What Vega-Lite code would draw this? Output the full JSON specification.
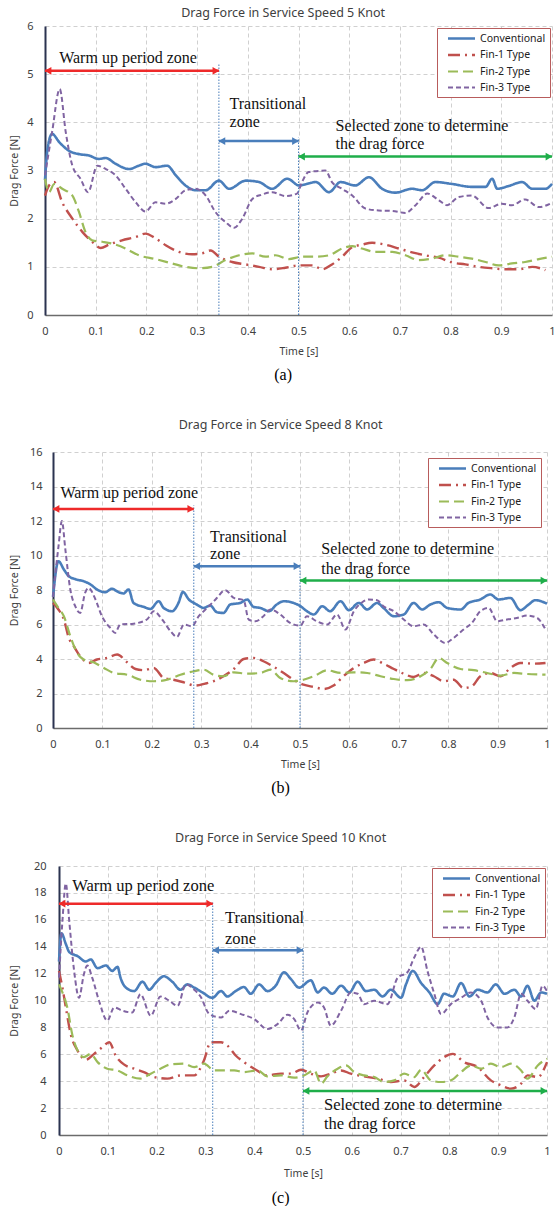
{
"$schema": "https://vega.github.io/schema/vega-lite/v6.json",
"padding": {"left": 0, "top": 6, "right": 0, "bottom": 0},
"spacing": 35,
"resolve": {"scale": {"color": "independent", "strokeDash": "independent", "strokeWidth": "independent", "stroke": "independent", "fill": "independent"}, "legend": {"color": "independent", "strokeDash": "independent", "strokeWidth": "independent", "stroke": "independent", "fill": "independent"}},
"config": {
  "font": "Noto Sans",
  "view": {"stroke": null},
  "axis": {"grid": true, "gridDash": [4, 3], "gridColor": "#d0d0d0", "gridWidth": 1, "ticks": false, "labelOverlap": false, "labelFont": "Noto Sans", "labelFontSize": 11, "labelColor": "#404040", "titleFont": "Noto Sans", "titleFontSize": 10.5, "titleFontWeight": "normal", "titleColor": "#404040"},
  "axisX": {"domainColor": "#6b6b6b", "domainWidth": 1.5, "labelPadding": 10, "titlePadding": 10, "labelFlush": false},
  "axisY": {"domainColor": "#2b3350", "domainWidth": 2, "titlePadding": 8, "labelOverlap": false},
  "legend": {"orient": "top-right", "fillColor": "white", "strokeColor": "#b85c5c", "padding": 4, "symbolType": "M-2.7,0L2.7,0", "symbolSize": 100, "symbolStrokeWidth": 2, "labelFont": "Noto Sans", "labelFontSize": 10.5, "labelColor": "#222222", "rowPadding": 4.5, "labelOffset": 12, "symbolOffset": 14},
  "title": {"font": "Noto Sans", "fontSize": 12.5, "fontWeight": "normal", "color": "#404040", "frame": "bounds", "anchor": "middle"},
  "concat": {"spacing": 35}
},
"datasets": {
"sp": [{"k": 0}],
"a": [
{"s":"Conventional","t":0,"v":2.8},{"s":"Conventional","t":0.005,"v":3.45},{"s":"Conventional","t":0.014,"v":3.76},{"s":"Conventional","t":0.028,"v":3.59},{"s":"Conventional","t":0.047,"v":3.41},{"s":"Conventional","t":0.067,"v":3.34},{"s":"Conventional","t":0.087,"v":3.31},{"s":"Conventional","t":0.106,"v":3.24},{"s":"Conventional","t":0.12,"v":3.26},{"s":"Conventional","t":0.139,"v":3.14},{"s":"Conventional","t":0.166,"v":3.03},{"s":"Conventional","t":0.185,"v":3.1},{"s":"Conventional","t":0.198,"v":3.14},{"s":"Conventional","t":0.218,"v":3.07},{"s":"Conventional","t":0.241,"v":3.1},{"s":"Conventional","t":0.258,"v":2.9},{"s":"Conventional","t":0.277,"v":2.69},{"s":"Conventional","t":0.297,"v":2.59},{"s":"Conventional","t":0.317,"v":2.59},{"s":"Conventional","t":0.343,"v":2.79},{"s":"Conventional","t":0.363,"v":2.62},{"s":"Conventional","t":0.396,"v":2.79},{"s":"Conventional","t":0.422,"v":2.76},{"s":"Conventional","t":0.448,"v":2.62},{"s":"Conventional","t":0.478,"v":2.83},{"s":"Conventional","t":0.501,"v":2.69},{"s":"Conventional","t":0.534,"v":2.76},{"s":"Conventional","t":0.56,"v":2.55},{"s":"Conventional","t":0.583,"v":2.76},{"s":"Conventional","t":0.612,"v":2.69},{"s":"Conventional","t":0.639,"v":2.86},{"s":"Conventional","t":0.665,"v":2.62},{"s":"Conventional","t":0.691,"v":2.54},{"s":"Conventional","t":0.724,"v":2.62},{"s":"Conventional","t":0.744,"v":2.59},{"s":"Conventional","t":0.77,"v":2.76},{"s":"Conventional","t":0.803,"v":2.72},{"s":"Conventional","t":0.842,"v":2.66},{"s":"Conventional","t":0.869,"v":2.66},{"s":"Conventional","t":0.882,"v":2.83},{"s":"Conventional","t":0.892,"v":2.62},{"s":"Conventional","t":0.915,"v":2.68},{"s":"Conventional","t":0.941,"v":2.76},{"s":"Conventional","t":0.961,"v":2.62},{"s":"Conventional","t":0.987,"v":2.62},{"s":"Conventional","t":1,"v":2.72},
{"s":"Fin-1 Type","t":0,"v":2.48},{"s":"Fin-1 Type","t":0.008,"v":2.69},{"s":"Fin-1 Type","t":0.018,"v":2.76},{"s":"Fin-1 Type","t":0.034,"v":2.34},{"s":"Fin-1 Type","t":0.054,"v":2.0},{"s":"Fin-1 Type","t":0.074,"v":1.72},{"s":"Fin-1 Type","t":0.093,"v":1.52},{"s":"Fin-1 Type","t":0.11,"v":1.39},{"s":"Fin-1 Type","t":0.126,"v":1.46},{"s":"Fin-1 Type","t":0.152,"v":1.55},{"s":"Fin-1 Type","t":0.179,"v":1.62},{"s":"Fin-1 Type","t":0.198,"v":1.69},{"s":"Fin-1 Type","t":0.218,"v":1.59},{"s":"Fin-1 Type","t":0.238,"v":1.45},{"s":"Fin-1 Type","t":0.264,"v":1.31},{"s":"Fin-1 Type","t":0.29,"v":1.26},{"s":"Fin-1 Type","t":0.31,"v":1.28},{"s":"Fin-1 Type","t":0.327,"v":1.34},{"s":"Fin-1 Type","t":0.343,"v":1.21},{"s":"Fin-1 Type","t":0.369,"v":1.1},{"s":"Fin-1 Type","t":0.396,"v":1.05},{"s":"Fin-1 Type","t":0.422,"v":1.0},{"s":"Fin-1 Type","t":0.448,"v":0.95},{"s":"Fin-1 Type","t":0.474,"v":0.98},{"s":"Fin-1 Type","t":0.501,"v":1.03},{"s":"Fin-1 Type","t":0.527,"v":1.03},{"s":"Fin-1 Type","t":0.547,"v":0.95},{"s":"Fin-1 Type","t":0.566,"v":1.05},{"s":"Fin-1 Type","t":0.586,"v":1.21},{"s":"Fin-1 Type","t":0.606,"v":1.41},{"s":"Fin-1 Type","t":0.625,"v":1.46},{"s":"Fin-1 Type","t":0.645,"v":1.5},{"s":"Fin-1 Type","t":0.671,"v":1.46},{"s":"Fin-1 Type","t":0.698,"v":1.38},{"s":"Fin-1 Type","t":0.724,"v":1.3},{"s":"Fin-1 Type","t":0.75,"v":1.24},{"s":"Fin-1 Type","t":0.777,"v":1.19},{"s":"Fin-1 Type","t":0.803,"v":1.09},{"s":"Fin-1 Type","t":0.829,"v":1.05},{"s":"Fin-1 Type","t":0.855,"v":1.0},{"s":"Fin-1 Type","t":0.882,"v":0.97},{"s":"Fin-1 Type","t":0.908,"v":0.95},{"s":"Fin-1 Type","t":0.934,"v":0.95},{"s":"Fin-1 Type","t":0.961,"v":1.0},{"s":"Fin-1 Type","t":0.987,"v":0.93},
{"s":"Fin-2 Type","t":0,"v":2.83},{"s":"Fin-2 Type","t":0.008,"v":2.55},{"s":"Fin-2 Type","t":0.018,"v":2.72},{"s":"Fin-2 Type","t":0.034,"v":2.62},{"s":"Fin-2 Type","t":0.054,"v":2.48},{"s":"Fin-2 Type","t":0.067,"v":2.14},{"s":"Fin-2 Type","t":0.08,"v":1.72},{"s":"Fin-2 Type","t":0.093,"v":1.55},{"s":"Fin-2 Type","t":0.113,"v":1.52},{"s":"Fin-2 Type","t":0.133,"v":1.48},{"s":"Fin-2 Type","t":0.159,"v":1.38},{"s":"Fin-2 Type","t":0.185,"v":1.24},{"s":"Fin-2 Type","t":0.218,"v":1.16},{"s":"Fin-2 Type","t":0.251,"v":1.07},{"s":"Fin-2 Type","t":0.277,"v":1.0},{"s":"Fin-2 Type","t":0.304,"v":0.97},{"s":"Fin-2 Type","t":0.33,"v":1.0},{"s":"Fin-2 Type","t":0.356,"v":1.14},{"s":"Fin-2 Type","t":0.383,"v":1.24},{"s":"Fin-2 Type","t":0.409,"v":1.28},{"s":"Fin-2 Type","t":0.435,"v":1.21},{"s":"Fin-2 Type","t":0.455,"v":1.24},{"s":"Fin-2 Type","t":0.481,"v":1.16},{"s":"Fin-2 Type","t":0.507,"v":1.21},{"s":"Fin-2 Type","t":0.534,"v":1.21},{"s":"Fin-2 Type","t":0.56,"v":1.24},{"s":"Fin-2 Type","t":0.586,"v":1.38},{"s":"Fin-2 Type","t":0.606,"v":1.43},{"s":"Fin-2 Type","t":0.625,"v":1.38},{"s":"Fin-2 Type","t":0.652,"v":1.31},{"s":"Fin-2 Type","t":0.685,"v":1.31},{"s":"Fin-2 Type","t":0.711,"v":1.24},{"s":"Fin-2 Type","t":0.737,"v":1.14},{"s":"Fin-2 Type","t":0.763,"v":1.17},{"s":"Fin-2 Type","t":0.79,"v":1.24},{"s":"Fin-2 Type","t":0.816,"v":1.21},{"s":"Fin-2 Type","t":0.842,"v":1.17},{"s":"Fin-2 Type","t":0.869,"v":1.1},{"s":"Fin-2 Type","t":0.895,"v":1.03},{"s":"Fin-2 Type","t":0.921,"v":1.07},{"s":"Fin-2 Type","t":0.947,"v":1.1},{"s":"Fin-2 Type","t":0.974,"v":1.16},{"s":"Fin-2 Type","t":1,"v":1.21},
{"s":"Fin-3 Type","t":0,"v":2.9},{"s":"Fin-3 Type","t":0.014,"v":3.8},{"s":"Fin-3 Type","t":0.029,"v":4.69},{"s":"Fin-3 Type","t":0.041,"v":3.79},{"s":"Fin-3 Type","t":0.054,"v":3.1},{"s":"Fin-3 Type","t":0.07,"v":2.83},{"s":"Fin-3 Type","t":0.085,"v":2.55},{"s":"Fin-3 Type","t":0.103,"v":3.1},{"s":"Fin-3 Type","t":0.12,"v":3.03},{"s":"Fin-3 Type","t":0.139,"v":2.9},{"s":"Fin-3 Type","t":0.159,"v":2.62},{"s":"Fin-3 Type","t":0.179,"v":2.34},{"s":"Fin-3 Type","t":0.198,"v":2.15},{"s":"Fin-3 Type","t":0.218,"v":2.34},{"s":"Fin-3 Type","t":0.238,"v":2.31},{"s":"Fin-3 Type","t":0.258,"v":2.41},{"s":"Fin-3 Type","t":0.277,"v":2.59},{"s":"Fin-3 Type","t":0.297,"v":2.62},{"s":"Fin-3 Type","t":0.317,"v":2.48},{"s":"Fin-3 Type","t":0.336,"v":2.14},{"s":"Fin-3 Type","t":0.356,"v":1.93},{"s":"Fin-3 Type","t":0.373,"v":1.81},{"s":"Fin-3 Type","t":0.389,"v":2.0},{"s":"Fin-3 Type","t":0.409,"v":2.41},{"s":"Fin-3 Type","t":0.428,"v":2.5},{"s":"Fin-3 Type","t":0.448,"v":2.55},{"s":"Fin-3 Type","t":0.474,"v":2.47},{"s":"Fin-3 Type","t":0.497,"v":2.52},{"s":"Fin-3 Type","t":0.507,"v":2.76},{"s":"Fin-3 Type","t":0.52,"v":2.97},{"s":"Fin-3 Type","t":0.54,"v":2.99},{"s":"Fin-3 Type","t":0.553,"v":3.0},{"s":"Fin-3 Type","t":0.566,"v":2.76},{"s":"Fin-3 Type","t":0.586,"v":2.62},{"s":"Fin-3 Type","t":0.606,"v":2.48},{"s":"Fin-3 Type","t":0.632,"v":2.21},{"s":"Fin-3 Type","t":0.658,"v":2.17},{"s":"Fin-3 Type","t":0.685,"v":2.16},{"s":"Fin-3 Type","t":0.711,"v":2.12},{"s":"Fin-3 Type","t":0.731,"v":2.28},{"s":"Fin-3 Type","t":0.754,"v":2.52},{"s":"Fin-3 Type","t":0.777,"v":2.38},{"s":"Fin-3 Type","t":0.793,"v":2.28},{"s":"Fin-3 Type","t":0.816,"v":2.45},{"s":"Fin-3 Type","t":0.842,"v":2.48},{"s":"Fin-3 Type","t":0.875,"v":2.22},{"s":"Fin-3 Type","t":0.901,"v":2.31},{"s":"Fin-3 Type","t":0.921,"v":2.28},{"s":"Fin-3 Type","t":0.947,"v":2.4},{"s":"Fin-3 Type","t":0.974,"v":2.24},{"s":"Fin-3 Type","t":1,"v":2.33}
],
"a_vl": [{"t":0.343,"v":0,"v2":5.21},{"t":0.5,"v":0,"v2":3.68}],
"a_ar": [{"z":"w","t":0,"t2":0.343,"v":5.07},{"z":"tr","t":0.343,"t2":0.5,"v":3.61},{"z":"se","t":0.5,"t2":1,"v":3.29}],
"a_tx": [{"label":"Warm up period zone","t":0.028,"v":5.34},{"label":"Transitional","t":0.364,"v":4.39},{"label":"zone","t":0.364,"v":4.0},{"label":"Selected zone to determine","t":0.573,"v":3.93},{"label":"the drag force","t":0.573,"v":3.54}],
"b": [
{"s":"Conventional","t":0,"v":7.6},{"s":"Conventional","t":0.011,"v":9.67},{"s":"Conventional","t":0.022,"v":9.19},{"s":"Conventional","t":0.032,"v":8.8},{"s":"Conventional","t":0.049,"v":8.6},{"s":"Conventional","t":0.062,"v":8.51},{"s":"Conventional","t":0.076,"v":8.32},{"s":"Conventional","t":0.089,"v":8.03},{"s":"Conventional","t":0.106,"v":7.87},{"s":"Conventional","t":0.119,"v":8.07},{"s":"Conventional","t":0.133,"v":7.87},{"s":"Conventional","t":0.143,"v":7.8},{"s":"Conventional","t":0.153,"v":8.03},{"s":"Conventional","t":0.163,"v":7.25},{"s":"Conventional","t":0.184,"v":7.02},{"s":"Conventional","t":0.197,"v":6.9},{"s":"Conventional","t":0.214,"v":7.35},{"s":"Conventional","t":0.224,"v":6.96},{"s":"Conventional","t":0.241,"v":6.77},{"s":"Conventional","t":0.254,"v":7.25},{"s":"Conventional","t":0.263,"v":7.89},{"s":"Conventional","t":0.275,"v":7.45},{"s":"Conventional","t":0.291,"v":7.16},{"s":"Conventional","t":0.305,"v":6.96},{"s":"Conventional","t":0.318,"v":7.1},{"s":"Conventional","t":0.332,"v":6.71},{"s":"Conventional","t":0.345,"v":6.67},{"s":"Conventional","t":0.359,"v":7.16},{"s":"Conventional","t":0.379,"v":7.25},{"s":"Conventional","t":0.393,"v":7.45},{"s":"Conventional","t":0.406,"v":7.02},{"s":"Conventional","t":0.42,"v":6.96},{"s":"Conventional","t":0.437,"v":6.77},{"s":"Conventional","t":0.453,"v":7.16},{"s":"Conventional","t":0.467,"v":7.35},{"s":"Conventional","t":0.487,"v":7.25},{"s":"Conventional","t":0.501,"v":7.06},{"s":"Conventional","t":0.514,"v":6.77},{"s":"Conventional","t":0.528,"v":6.58},{"s":"Conventional","t":0.545,"v":7.06},{"s":"Conventional","t":0.561,"v":6.77},{"s":"Conventional","t":0.582,"v":7.35},{"s":"Conventional","t":0.599,"v":6.83},{"s":"Conventional","t":0.619,"v":7.25},{"s":"Conventional","t":0.636,"v":6.87},{"s":"Conventional","t":0.656,"v":7.25},{"s":"Conventional","t":0.669,"v":6.96},{"s":"Conventional","t":0.69,"v":6.48},{"s":"Conventional","t":0.71,"v":6.58},{"s":"Conventional","t":0.73,"v":7.25},{"s":"Conventional","t":0.747,"v":6.87},{"s":"Conventional","t":0.764,"v":7.16},{"s":"Conventional","t":0.781,"v":7.29},{"s":"Conventional","t":0.798,"v":6.96},{"s":"Conventional","t":0.825,"v":6.87},{"s":"Conventional","t":0.841,"v":7.25},{"s":"Conventional","t":0.865,"v":7.45},{"s":"Conventional","t":0.885,"v":7.74},{"s":"Conventional","t":0.902,"v":7.45},{"s":"Conventional","t":0.926,"v":7.54},{"s":"Conventional","t":0.946,"v":6.83},{"s":"Conventional","t":0.963,"v":7.16},{"s":"Conventional","t":0.976,"v":7.41},{"s":"Conventional","t":1,"v":7.21},
{"s":"Fin-1 Type","t":0,"v":7.25},{"s":"Fin-1 Type","t":0.011,"v":6.87},{"s":"Fin-1 Type","t":0.022,"v":6.29},{"s":"Fin-1 Type","t":0.032,"v":5.22},{"s":"Fin-1 Type","t":0.042,"v":4.74},{"s":"Fin-1 Type","t":0.055,"v":4.16},{"s":"Fin-1 Type","t":0.072,"v":3.77},{"s":"Fin-1 Type","t":0.089,"v":3.97},{"s":"Fin-1 Type","t":0.109,"v":4.06},{"s":"Fin-1 Type","t":0.13,"v":4.26},{"s":"Fin-1 Type","t":0.15,"v":3.81},{"s":"Fin-1 Type","t":0.167,"v":3.42},{"s":"Fin-1 Type","t":0.184,"v":3.35},{"s":"Fin-1 Type","t":0.204,"v":3.48},{"s":"Fin-1 Type","t":0.224,"v":2.9},{"s":"Fin-1 Type","t":0.244,"v":2.8},{"s":"Fin-1 Type","t":0.265,"v":2.65},{"s":"Fin-1 Type","t":0.288,"v":2.46},{"s":"Fin-1 Type","t":0.308,"v":2.57},{"s":"Fin-1 Type","t":0.325,"v":2.71},{"s":"Fin-1 Type","t":0.345,"v":3.0},{"s":"Fin-1 Type","t":0.366,"v":3.42},{"s":"Fin-1 Type","t":0.386,"v":4.0},{"s":"Fin-1 Type","t":0.406,"v":4.06},{"s":"Fin-1 Type","t":0.426,"v":3.87},{"s":"Fin-1 Type","t":0.447,"v":3.54},{"s":"Fin-1 Type","t":0.467,"v":3.19},{"s":"Fin-1 Type","t":0.487,"v":2.8},{"s":"Fin-1 Type","t":0.507,"v":2.51},{"s":"Fin-1 Type","t":0.528,"v":2.38},{"s":"Fin-1 Type","t":0.548,"v":2.26},{"s":"Fin-1 Type","t":0.568,"v":2.46},{"s":"Fin-1 Type","t":0.588,"v":3.0},{"s":"Fin-1 Type","t":0.609,"v":3.48},{"s":"Fin-1 Type","t":0.629,"v":3.77},{"s":"Fin-1 Type","t":0.649,"v":3.97},{"s":"Fin-1 Type","t":0.669,"v":3.73},{"s":"Fin-1 Type","t":0.69,"v":3.42},{"s":"Fin-1 Type","t":0.71,"v":3.15},{"s":"Fin-1 Type","t":0.73,"v":2.96},{"s":"Fin-1 Type","t":0.75,"v":3.19},{"s":"Fin-1 Type","t":0.771,"v":3.0},{"s":"Fin-1 Type","t":0.791,"v":2.71},{"s":"Fin-1 Type","t":0.811,"v":2.8},{"s":"Fin-1 Type","t":0.831,"v":2.32},{"s":"Fin-1 Type","t":0.848,"v":2.42},{"s":"Fin-1 Type","t":0.865,"v":3.0},{"s":"Fin-1 Type","t":0.885,"v":3.19},{"s":"Fin-1 Type","t":0.906,"v":3.0},{"s":"Fin-1 Type","t":0.926,"v":3.48},{"s":"Fin-1 Type","t":0.946,"v":3.77},{"s":"Fin-1 Type","t":0.973,"v":3.73},{"s":"Fin-1 Type","t":0.997,"v":3.77},
{"s":"Fin-2 Type","t":0,"v":7.45},{"s":"Fin-2 Type","t":0.011,"v":6.96},{"s":"Fin-2 Type","t":0.022,"v":6.48},{"s":"Fin-2 Type","t":0.035,"v":5.32},{"s":"Fin-2 Type","t":0.049,"v":4.35},{"s":"Fin-2 Type","t":0.062,"v":3.97},{"s":"Fin-2 Type","t":0.082,"v":3.81},{"s":"Fin-2 Type","t":0.103,"v":3.48},{"s":"Fin-2 Type","t":0.123,"v":3.19},{"s":"Fin-2 Type","t":0.15,"v":3.09},{"s":"Fin-2 Type","t":0.177,"v":2.8},{"s":"Fin-2 Type","t":0.204,"v":2.71},{"s":"Fin-2 Type","t":0.231,"v":2.8},{"s":"Fin-2 Type","t":0.258,"v":3.09},{"s":"Fin-2 Type","t":0.285,"v":3.29},{"s":"Fin-2 Type","t":0.305,"v":3.38},{"s":"Fin-2 Type","t":0.325,"v":3.09},{"s":"Fin-2 Type","t":0.345,"v":3.0},{"s":"Fin-2 Type","t":0.366,"v":3.23},{"s":"Fin-2 Type","t":0.393,"v":3.15},{"s":"Fin-2 Type","t":0.42,"v":3.19},{"s":"Fin-2 Type","t":0.44,"v":3.38},{"s":"Fin-2 Type","t":0.46,"v":2.9},{"s":"Fin-2 Type","t":0.487,"v":2.71},{"s":"Fin-2 Type","t":0.507,"v":2.8},{"s":"Fin-2 Type","t":0.528,"v":3.0},{"s":"Fin-2 Type","t":0.555,"v":3.35},{"s":"Fin-2 Type","t":0.582,"v":3.19},{"s":"Fin-2 Type","t":0.609,"v":3.23},{"s":"Fin-2 Type","t":0.636,"v":3.19},{"s":"Fin-2 Type","t":0.663,"v":3.0},{"s":"Fin-2 Type","t":0.69,"v":2.84},{"s":"Fin-2 Type","t":0.717,"v":2.77},{"s":"Fin-2 Type","t":0.744,"v":3.0},{"s":"Fin-2 Type","t":0.764,"v":3.42},{"s":"Fin-2 Type","t":0.781,"v":4.06},{"s":"Fin-2 Type","t":0.798,"v":3.77},{"s":"Fin-2 Type","t":0.825,"v":3.42},{"s":"Fin-2 Type","t":0.852,"v":3.35},{"s":"Fin-2 Type","t":0.879,"v":3.19},{"s":"Fin-2 Type","t":0.906,"v":3.04},{"s":"Fin-2 Type","t":0.933,"v":3.19},{"s":"Fin-2 Type","t":0.96,"v":3.13},{"s":"Fin-2 Type","t":0.997,"v":3.09},
{"s":"Fin-3 Type","t":0,"v":7.6},{"s":"Fin-3 Type","t":0.011,"v":10.5},{"s":"Fin-3 Type","t":0.018,"v":12.0},{"s":"Fin-3 Type","t":0.025,"v":10.35},{"s":"Fin-3 Type","t":0.035,"v":8.03},{"s":"Fin-3 Type","t":0.045,"v":7.06},{"s":"Fin-3 Type","t":0.055,"v":6.67},{"s":"Fin-3 Type","t":0.065,"v":7.83},{"s":"Fin-3 Type","t":0.072,"v":8.12},{"s":"Fin-3 Type","t":0.086,"v":7.45},{"s":"Fin-3 Type","t":0.099,"v":6.48},{"s":"Fin-3 Type","t":0.116,"v":5.8},{"s":"Fin-3 Type","t":0.126,"v":5.51},{"s":"Fin-3 Type","t":0.136,"v":6.0},{"s":"Fin-3 Type","t":0.163,"v":6.05},{"s":"Fin-3 Type","t":0.19,"v":6.29},{"s":"Fin-3 Type","t":0.204,"v":6.77},{"s":"Fin-3 Type","t":0.221,"v":6.29},{"s":"Fin-3 Type","t":0.238,"v":5.61},{"s":"Fin-3 Type","t":0.251,"v":5.28},{"s":"Fin-3 Type","t":0.265,"v":6.0},{"s":"Fin-3 Type","t":0.281,"v":5.9},{"s":"Fin-3 Type","t":0.295,"v":6.48},{"s":"Fin-3 Type","t":0.312,"v":6.96},{"s":"Fin-3 Type","t":0.329,"v":7.45},{"s":"Fin-3 Type","t":0.349,"v":7.99},{"s":"Fin-3 Type","t":0.366,"v":7.54},{"s":"Fin-3 Type","t":0.386,"v":7.41},{"s":"Fin-3 Type","t":0.396,"v":6.29},{"s":"Fin-3 Type","t":0.41,"v":6.19},{"s":"Fin-3 Type","t":0.426,"v":6.48},{"s":"Fin-3 Type","t":0.44,"v":6.87},{"s":"Fin-3 Type","t":0.46,"v":6.58},{"s":"Fin-3 Type","t":0.48,"v":6.09},{"s":"Fin-3 Type","t":0.501,"v":5.94},{"s":"Fin-3 Type","t":0.514,"v":6.48},{"s":"Fin-3 Type","t":0.534,"v":6.19},{"s":"Fin-3 Type","t":0.555,"v":6.0},{"s":"Fin-3 Type","t":0.575,"v":6.58},{"s":"Fin-3 Type","t":0.592,"v":5.71},{"s":"Fin-3 Type","t":0.609,"v":6.77},{"s":"Fin-3 Type","t":0.626,"v":7.29},{"s":"Fin-3 Type","t":0.639,"v":7.45},{"s":"Fin-3 Type","t":0.656,"v":7.41},{"s":"Fin-3 Type","t":0.669,"v":7.06},{"s":"Fin-3 Type","t":0.69,"v":6.77},{"s":"Fin-3 Type","t":0.71,"v":6.29},{"s":"Fin-3 Type","t":0.73,"v":5.9},{"s":"Fin-3 Type","t":0.75,"v":6.0},{"s":"Fin-3 Type","t":0.771,"v":5.42},{"s":"Fin-3 Type","t":0.794,"v":4.93},{"s":"Fin-3 Type","t":0.811,"v":5.22},{"s":"Fin-3 Type","t":0.831,"v":5.71},{"s":"Fin-3 Type","t":0.848,"v":6.09},{"s":"Fin-3 Type","t":0.865,"v":6.77},{"s":"Fin-3 Type","t":0.882,"v":6.96},{"s":"Fin-3 Type","t":0.899,"v":6.19},{"s":"Fin-3 Type","t":0.919,"v":6.29},{"s":"Fin-3 Type","t":0.939,"v":6.38},{"s":"Fin-3 Type","t":0.96,"v":6.52},{"s":"Fin-3 Type","t":0.98,"v":6.38},{"s":"Fin-3 Type","t":0.997,"v":5.71}
],
"b_vl": [{"t":0.285,"v":0,"v2":12.9},{"t":0.5,"v":0,"v2":9.5}],
"b_ar": [{"z":"w","t":0,"t2":0.285,"v":12.7},{"z":"tr","t":0.285,"t2":0.5,"v":9.38},{"z":"se","t":0.5,"t2":1,"v":8.55}],
"b_tx": [{"label":"Warm up period zone","t":0.015,"v":13.6},{"label":"Transitional","t":0.318,"v":11.1},{"label":"zone","t":0.318,"v":10.06},{"label":"Selected zone to determine","t":0.543,"v":10.35},{"label":"the drag force","t":0.543,"v":9.23}],
"c": [
{"s":"Conventional","t":0,"v":12.9},{"s":"Conventional","t":0.005,"v":15.0},{"s":"Conventional","t":0.014,"v":14.2},{"s":"Conventional","t":0.021,"v":13.6},{"s":"Conventional","t":0.038,"v":13.3},{"s":"Conventional","t":0.055,"v":12.9},{"s":"Conventional","t":0.065,"v":13.05},{"s":"Conventional","t":0.079,"v":12.4},{"s":"Conventional","t":0.096,"v":12.6},{"s":"Conventional","t":0.109,"v":12.2},{"s":"Conventional","t":0.12,"v":12.5},{"s":"Conventional","t":0.126,"v":11.7},{"s":"Conventional","t":0.137,"v":10.96},{"s":"Conventional","t":0.154,"v":10.7},{"s":"Conventional","t":0.171,"v":11.4},{"s":"Conventional","t":0.185,"v":10.8},{"s":"Conventional","t":0.198,"v":11.3},{"s":"Conventional","t":0.215,"v":11.8},{"s":"Conventional","t":0.232,"v":11.4},{"s":"Conventional","t":0.249,"v":10.8},{"s":"Conventional","t":0.263,"v":11.2},{"s":"Conventional","t":0.277,"v":10.96},{"s":"Conventional","t":0.294,"v":10.6},{"s":"Conventional","t":0.314,"v":10.2},{"s":"Conventional","t":0.332,"v":10.7},{"s":"Conventional","t":0.345,"v":10.3},{"s":"Conventional","t":0.362,"v":10.7},{"s":"Conventional","t":0.379,"v":11.0},{"s":"Conventional","t":0.393,"v":10.5},{"s":"Conventional","t":0.41,"v":11.2},{"s":"Conventional","t":0.427,"v":10.7},{"s":"Conventional","t":0.444,"v":11.1},{"s":"Conventional","t":0.461,"v":12.1},{"s":"Conventional","t":0.475,"v":11.6},{"s":"Conventional","t":0.492,"v":10.96},{"s":"Conventional","t":0.516,"v":11.5},{"s":"Conventional","t":0.53,"v":10.6},{"s":"Conventional","t":0.543,"v":10.96},{"s":"Conventional","t":0.56,"v":10.5},{"s":"Conventional","t":0.578,"v":11.1},{"s":"Conventional","t":0.595,"v":10.6},{"s":"Conventional","t":0.612,"v":11.4},{"s":"Conventional","t":0.629,"v":10.7},{"s":"Conventional","t":0.646,"v":10.8},{"s":"Conventional","t":0.663,"v":10.3},{"s":"Conventional","t":0.68,"v":10.8},{"s":"Conventional","t":0.701,"v":10.2},{"s":"Conventional","t":0.711,"v":11.2},{"s":"Conventional","t":0.725,"v":12.2},{"s":"Conventional","t":0.742,"v":11.3},{"s":"Conventional","t":0.759,"v":10.6},{"s":"Conventional","t":0.776,"v":9.73},{"s":"Conventional","t":0.789,"v":10.5},{"s":"Conventional","t":0.807,"v":10.3},{"s":"Conventional","t":0.824,"v":11.3},{"s":"Conventional","t":0.841,"v":10.3},{"s":"Conventional","t":0.858,"v":10.8},{"s":"Conventional","t":0.878,"v":10.6},{"s":"Conventional","t":0.895,"v":11.2},{"s":"Conventional","t":0.913,"v":10.5},{"s":"Conventional","t":0.933,"v":10.8},{"s":"Conventional","t":0.947,"v":10.3},{"s":"Conventional","t":0.96,"v":11.1},{"s":"Conventional","t":0.974,"v":9.98},{"s":"Conventional","t":0.988,"v":10.6},{"s":"Conventional","t":1,"v":10.5},
{"s":"Fin-1 Type","t":0,"v":12.2},{"s":"Fin-1 Type","t":0.007,"v":10.96},{"s":"Fin-1 Type","t":0.014,"v":9.48},{"s":"Fin-1 Type","t":0.024,"v":7.5},{"s":"Fin-1 Type","t":0.038,"v":6.28},{"s":"Fin-1 Type","t":0.055,"v":5.59},{"s":"Fin-1 Type","t":0.072,"v":6.03},{"s":"Fin-1 Type","t":0.089,"v":6.53},{"s":"Fin-1 Type","t":0.103,"v":6.9},{"s":"Fin-1 Type","t":0.116,"v":5.91},{"s":"Fin-1 Type","t":0.133,"v":5.25},{"s":"Fin-1 Type","t":0.154,"v":4.93},{"s":"Fin-1 Type","t":0.174,"v":4.68},{"s":"Fin-1 Type","t":0.195,"v":4.31},{"s":"Fin-1 Type","t":0.222,"v":4.19},{"s":"Fin-1 Type","t":0.249,"v":4.43},{"s":"Fin-1 Type","t":0.277,"v":4.43},{"s":"Fin-1 Type","t":0.297,"v":5.54},{"s":"Fin-1 Type","t":0.311,"v":6.9},{"s":"Fin-1 Type","t":0.332,"v":6.9},{"s":"Fin-1 Type","t":0.345,"v":6.65},{"s":"Fin-1 Type","t":0.362,"v":5.91},{"s":"Fin-1 Type","t":0.379,"v":5.42},{"s":"Fin-1 Type","t":0.4,"v":4.93},{"s":"Fin-1 Type","t":0.427,"v":4.43},{"s":"Fin-1 Type","t":0.455,"v":4.56},{"s":"Fin-1 Type","t":0.475,"v":4.56},{"s":"Fin-1 Type","t":0.496,"v":4.85},{"s":"Fin-1 Type","t":0.516,"v":4.56},{"s":"Fin-1 Type","t":0.537,"v":4.36},{"s":"Fin-1 Type","t":0.557,"v":4.56},{"s":"Fin-1 Type","t":0.578,"v":4.8},{"s":"Fin-1 Type","t":0.598,"v":4.56},{"s":"Fin-1 Type","t":0.625,"v":4.36},{"s":"Fin-1 Type","t":0.653,"v":4.19},{"s":"Fin-1 Type","t":0.68,"v":3.94},{"s":"Fin-1 Type","t":0.707,"v":4.06},{"s":"Fin-1 Type","t":0.728,"v":3.57},{"s":"Fin-1 Type","t":0.748,"v":4.31},{"s":"Fin-1 Type","t":0.769,"v":5.17},{"s":"Fin-1 Type","t":0.789,"v":5.79},{"s":"Fin-1 Type","t":0.807,"v":6.03},{"s":"Fin-1 Type","t":0.83,"v":5.42},{"s":"Fin-1 Type","t":0.858,"v":5.05},{"s":"Fin-1 Type","t":0.885,"v":4.06},{"s":"Fin-1 Type","t":0.906,"v":3.69},{"s":"Fin-1 Type","t":0.926,"v":3.45},{"s":"Fin-1 Type","t":0.947,"v":3.82},{"s":"Fin-1 Type","t":0.96,"v":4.43},{"s":"Fin-1 Type","t":0.981,"v":4.31},{"s":"Fin-1 Type","t":1,"v":5.42},
{"s":"Fin-2 Type","t":0,"v":11.2},{"s":"Fin-2 Type","t":0.007,"v":10.6},{"s":"Fin-2 Type","t":0.017,"v":9.48},{"s":"Fin-2 Type","t":0.027,"v":7.5},{"s":"Fin-2 Type","t":0.038,"v":6.28},{"s":"Fin-2 Type","t":0.051,"v":5.79},{"s":"Fin-2 Type","t":0.065,"v":6.03},{"s":"Fin-2 Type","t":0.079,"v":5.42},{"s":"Fin-2 Type","t":0.099,"v":4.93},{"s":"Fin-2 Type","t":0.12,"v":4.8},{"s":"Fin-2 Type","t":0.14,"v":4.43},{"s":"Fin-2 Type","t":0.167,"v":4.19},{"s":"Fin-2 Type","t":0.188,"v":4.56},{"s":"Fin-2 Type","t":0.208,"v":4.93},{"s":"Fin-2 Type","t":0.229,"v":5.25},{"s":"Fin-2 Type","t":0.256,"v":5.3},{"s":"Fin-2 Type","t":0.277,"v":5.05},{"s":"Fin-2 Type","t":0.297,"v":5.3},{"s":"Fin-2 Type","t":0.318,"v":4.8},{"s":"Fin-2 Type","t":0.338,"v":4.8},{"s":"Fin-2 Type","t":0.359,"v":4.8},{"s":"Fin-2 Type","t":0.379,"v":4.68},{"s":"Fin-2 Type","t":0.407,"v":4.8},{"s":"Fin-2 Type","t":0.427,"v":4.36},{"s":"Fin-2 Type","t":0.455,"v":4.43},{"s":"Fin-2 Type","t":0.482,"v":4.26},{"s":"Fin-2 Type","t":0.502,"v":4.43},{"s":"Fin-2 Type","t":0.523,"v":4.8},{"s":"Fin-2 Type","t":0.537,"v":3.82},{"s":"Fin-2 Type","t":0.55,"v":4.36},{"s":"Fin-2 Type","t":0.571,"v":4.93},{"s":"Fin-2 Type","t":0.588,"v":5.17},{"s":"Fin-2 Type","t":0.605,"v":4.68},{"s":"Fin-2 Type","t":0.625,"v":4.43},{"s":"Fin-2 Type","t":0.646,"v":4.31},{"s":"Fin-2 Type","t":0.666,"v":3.94},{"s":"Fin-2 Type","t":0.687,"v":4.06},{"s":"Fin-2 Type","t":0.707,"v":4.56},{"s":"Fin-2 Type","t":0.728,"v":4.31},{"s":"Fin-2 Type","t":0.742,"v":4.85},{"s":"Fin-2 Type","t":0.762,"v":4.06},{"s":"Fin-2 Type","t":0.783,"v":3.94},{"s":"Fin-2 Type","t":0.803,"v":4.06},{"s":"Fin-2 Type","t":0.824,"v":4.68},{"s":"Fin-2 Type","t":0.844,"v":5.17},{"s":"Fin-2 Type","t":0.865,"v":4.93},{"s":"Fin-2 Type","t":0.885,"v":5.3},{"s":"Fin-2 Type","t":0.906,"v":5.05},{"s":"Fin-2 Type","t":0.926,"v":5.3},{"s":"Fin-2 Type","t":0.947,"v":4.8},{"s":"Fin-2 Type","t":0.96,"v":4.19},{"s":"Fin-2 Type","t":0.981,"v":5.17},{"s":"Fin-2 Type","t":1,"v":5.67},
{"s":"Fin-3 Type","t":0,"v":11.7},{"s":"Fin-3 Type","t":0.007,"v":15.9},{"s":"Fin-3 Type","t":0.014,"v":18.7},{"s":"Fin-3 Type","t":0.021,"v":15.9},{"s":"Fin-3 Type","t":0.031,"v":12.2},{"s":"Fin-3 Type","t":0.041,"v":10.2},{"s":"Fin-3 Type","t":0.051,"v":11.95},{"s":"Fin-3 Type","t":0.058,"v":12.6},{"s":"Fin-3 Type","t":0.068,"v":11.7},{"s":"Fin-3 Type","t":0.082,"v":9.98},{"s":"Fin-3 Type","t":0.099,"v":8.5},{"s":"Fin-3 Type","t":0.113,"v":9.48},{"s":"Fin-3 Type","t":0.13,"v":9.24},{"s":"Fin-3 Type","t":0.15,"v":9.11},{"s":"Fin-3 Type","t":0.167,"v":10.47},{"s":"Fin-3 Type","t":0.188,"v":8.87},{"s":"Fin-3 Type","t":0.208,"v":10.3},{"s":"Fin-3 Type","t":0.226,"v":9.98},{"s":"Fin-3 Type","t":0.243,"v":9.6},{"s":"Fin-3 Type","t":0.26,"v":11.2},{"s":"Fin-3 Type","t":0.277,"v":10.8},{"s":"Fin-3 Type","t":0.29,"v":10.3},{"s":"Fin-3 Type","t":0.308,"v":8.99},{"s":"Fin-3 Type","t":0.332,"v":8.74},{"s":"Fin-3 Type","t":0.349,"v":9.24},{"s":"Fin-3 Type","t":0.373,"v":8.99},{"s":"Fin-3 Type","t":0.4,"v":8.62},{"s":"Fin-3 Type","t":0.427,"v":7.88},{"s":"Fin-3 Type","t":0.448,"v":8.25},{"s":"Fin-3 Type","t":0.468,"v":8.94},{"s":"Fin-3 Type","t":0.482,"v":8.62},{"s":"Fin-3 Type","t":0.496,"v":7.76},{"s":"Fin-3 Type","t":0.509,"v":9.11},{"s":"Fin-3 Type","t":0.53,"v":9.85},{"s":"Fin-3 Type","t":0.543,"v":9.48},{"s":"Fin-3 Type","t":0.557,"v":8.13},{"s":"Fin-3 Type","t":0.578,"v":9.24},{"s":"Fin-3 Type","t":0.598,"v":10.6},{"s":"Fin-3 Type","t":0.612,"v":10.5},{"s":"Fin-3 Type","t":0.625,"v":9.73},{"s":"Fin-3 Type","t":0.646,"v":9.98},{"s":"Fin-3 Type","t":0.673,"v":9.73},{"s":"Fin-3 Type","t":0.694,"v":11.7},{"s":"Fin-3 Type","t":0.714,"v":12.1},{"s":"Fin-3 Type","t":0.728,"v":13.2},{"s":"Fin-3 Type","t":0.742,"v":14.0},{"s":"Fin-3 Type","t":0.755,"v":12.2},{"s":"Fin-3 Type","t":0.769,"v":10.5},{"s":"Fin-3 Type","t":0.783,"v":8.99},{"s":"Fin-3 Type","t":0.803,"v":9.73},{"s":"Fin-3 Type","t":0.824,"v":10.2},{"s":"Fin-3 Type","t":0.844,"v":10.6},{"s":"Fin-3 Type","t":0.865,"v":9.98},{"s":"Fin-3 Type","t":0.878,"v":8.74},{"s":"Fin-3 Type","t":0.899,"v":8.0},{"s":"Fin-3 Type","t":0.919,"v":8.0},{"s":"Fin-3 Type","t":0.933,"v":8.74},{"s":"Fin-3 Type","t":0.947,"v":10.5},{"s":"Fin-3 Type","t":0.96,"v":9.98},{"s":"Fin-3 Type","t":0.977,"v":9.36},{"s":"Fin-3 Type","t":0.991,"v":11.1},{"s":"Fin-3 Type","t":1,"v":10.7}
],
"c_vl": [{"t":0.315,"v":0,"v2":17.4},{"t":0.5,"v":0,"v2":13.9}],
"c_ar": [{"z":"w","t":0,"t2":0.315,"v":17.2},{"z":"tr","t":0.315,"t2":0.5,"v":13.74},{"z":"se","t":0.5,"t2":1,"v":3.28}],
"c_tx": [{"label":"Warm up period zone","t":0.027,"v":18.5},{"label":"Transitional","t":0.34,"v":16.1},{"label":"zone","t":0.34,"v":14.6},{"label":"Selected zone to determine","t":0.543,"v":2.22},{"label":"the drag force","t":0.543,"v":0.81}]
},
"vconcat": [
{
 "spacing": 0,
 "resolve": {"scale": {"color": "independent", "strokeDash": "independent", "strokeWidth": "independent", "stroke": "independent", "fill": "independent"}, "legend": {"color": "independent", "strokeDash": "independent", "strokeWidth": "independent", "stroke": "independent", "fill": "independent"}},
 "hconcat": [
 {"width": 9, "height": 5, "data": {"name": "sp"}, "mark": {"type": "point", "opacity": 0}},
 {
 "title": {"text": "(a)", "orient": "bottom", "font": "Liberation Serif", "fontSize": 16, "color": "#000000", "offset": 10},
 "resolve": {"scale": {"color": "independent", "strokeDash": "independent", "strokeWidth": "independent", "stroke": "independent", "fill": "independent"}, "legend": {"color": "independent", "strokeDash": "independent", "strokeWidth": "independent", "stroke": "independent", "fill": "independent"}},
 "vconcat": [{
  "title": {"text": "Drag Force in Service Speed 5 Knot", "offset": 1},
  "width": 507, "height": 289,
  "layer": [
   {"data": {"name": "a"}, "mark": {"type": "line", "interpolate": "monotone"},
    "encoding": {
     "x": {"field": "t", "type": "quantitative", "title": "Time [s]", "scale": {"domain": [0, 1], "nice": false}, "axis": {"values": [0,0.1,0.2,0.3,0.4,0.5,0.6,0.7,0.8,0.9,1], "format": "~g", "labelOverlap": false, "tickCount": 30}},
     "y": {"field": "v", "type": "quantitative", "title": "Drag Force [N]", "scale": {"domain": [0, 6], "nice": false}, "axis": {"values": [0,1,2,3,4,5,6], "format": "d", "labelPadding": 12, "minExtent": 18, "maxExtent": 18, "labelOverlap": false, "tickCount": 30}},
     "color": {"field": "s", "type": "nominal", "title": null, "scale": {"domain": ["Conventional","Fin-1 Type","Fin-2 Type","Fin-3 Type"], "range": ["#4a7ebb","#c0504d","#9bbb59","#8064a2"]}, "legend": {"offset": 2}},
     "strokeDash": {"field": "s", "type": "nominal", "title": null, "scale": {"domain": ["Conventional","Fin-1 Type","Fin-2 Type","Fin-3 Type"], "range": [[1,0],[12,5,2,5],[10,5],[5,3]]}, "legend": {"offset": 2}},
     "strokeWidth": {"field": "s", "type": "ordinal", "scale": {"domain": ["Conventional","Fin-1 Type","Fin-2 Type","Fin-3 Type"], "range": [2.6,2,2,2]}, "legend": null}
    }},
   {"data": {"name": "a_vl"}, "mark": {"type": "rule", "color": "#4a7ebb", "strokeWidth": 1, "strokeDash": [1.5, 1.5]},
    "encoding": {"x": {"field": "t", "type": "quantitative"}, "y": {"field": "v", "type": "quantitative"}, "y2": {"field": "v2"}}},
   {"data": {"name": "a_ar"}, "mark": {"type": "rule", "strokeWidth": 2.5},
    "encoding": {"x": {"field": "t", "type": "quantitative"}, "x2": {"field": "t2"}, "y": {"field": "v", "type": "quantitative"},
     "stroke": {"field": "z", "type": "nominal", "scale": {"domain": ["w","tr","se"], "range": ["#ee2a2a","#4a7ebb","#1fae4a"]}, "legend": null}}},
   {"data": {"name": "a_ar"}, "mark": {"type": "point", "shape": "triangle-left", "filled": true, "size": 60, "opacity": 1, "xOffset": 3},
    "encoding": {"x": {"field": "t", "type": "quantitative"}, "y": {"field": "v", "type": "quantitative"},
     "fill": {"field": "z", "type": "nominal", "scale": {"domain": ["w","tr","se"], "range": ["#ee2a2a","#4a7ebb","#1fae4a"]}, "legend": null}}},
   {"data": {"name": "a_ar"}, "mark": {"type": "point", "shape": "triangle-right", "filled": true, "size": 60, "opacity": 1, "xOffset": -3},
    "encoding": {"x": {"field": "t2", "type": "quantitative"}, "y": {"field": "v", "type": "quantitative"},
     "fill": {"field": "z", "type": "nominal", "scale": {"domain": ["w","tr","se"], "range": ["#ee2a2a","#4a7ebb","#1fae4a"]}, "legend": null}}},
   {"data": {"name": "a_tx"}, "mark": {"type": "text", "align": "left", "baseline": "middle", "font": "Liberation Serif", "fontSize": 16, "color": "#111111"},
    "encoding": {"x": {"field": "t", "type": "quantitative"}, "y": {"field": "v", "type": "quantitative"}, "text": {"field": "label"}}}
  ]
 }]
 }]
},
{
 "spacing": 0,
 "resolve": {"scale": {"color": "independent", "strokeDash": "independent", "strokeWidth": "independent", "stroke": "independent", "fill": "independent"}, "legend": {"color": "independent", "strokeDash": "independent", "strokeWidth": "independent", "stroke": "independent", "fill": "independent"}},
 "hconcat": [
 {"width": 9, "height": 5, "data": {"name": "sp"}, "mark": {"type": "point", "opacity": 0}},
 {
 "title": {"text": "(b)", "orient": "bottom", "font": "Liberation Serif", "fontSize": 16, "color": "#000000", "offset": 10},
 "resolve": {"scale": {"color": "independent", "strokeDash": "independent", "strokeWidth": "independent", "stroke": "independent", "fill": "independent"}, "legend": {"color": "independent", "strokeDash": "independent", "strokeWidth": "independent", "stroke": "independent", "fill": "independent"}},
 "vconcat": [{
  "title": {"text": "Drag Force in Service Speed 8 Knot", "offset": 15},
  "width": 494, "height": 276,
  "layer": [
   {"data": {"name": "b"}, "mark": {"type": "line", "interpolate": "monotone"},
    "encoding": {
     "x": {"field": "t", "type": "quantitative", "title": "Time [s]", "scale": {"domain": [0, 1], "nice": false}, "axis": {"values": [0,0.1,0.2,0.3,0.4,0.5,0.6,0.7,0.8,0.9,1], "format": "~g", "labelOverlap": false, "tickCount": 30}},
     "y": {"field": "v", "type": "quantitative", "title": "Drag Force [N]", "scale": {"domain": [0, 16], "nice": false}, "axis": {"values": [0,2,4,6,8,10,12,14,16], "format": "d", "labelPadding": 11, "minExtent": 26, "maxExtent": 26, "labelOverlap": false, "tickCount": 30}},
     "color": {"field": "s", "type": "nominal", "title": null, "scale": {"domain": ["Conventional","Fin-1 Type","Fin-2 Type","Fin-3 Type"], "range": ["#4a7ebb","#c0504d","#9bbb59","#8064a2"]}, "legend": {"offset": 6}},
     "strokeDash": {"field": "s", "type": "nominal", "title": null, "scale": {"domain": ["Conventional","Fin-1 Type","Fin-2 Type","Fin-3 Type"], "range": [[1,0],[12,5,2,5],[10,5],[5,3]]}, "legend": {"offset": 6}},
     "strokeWidth": {"field": "s", "type": "ordinal", "scale": {"domain": ["Conventional","Fin-1 Type","Fin-2 Type","Fin-3 Type"], "range": [2.6,2,2,2]}, "legend": null}
    }},
   {"data": {"name": "b_vl"}, "mark": {"type": "rule", "color": "#4a7ebb", "strokeWidth": 1, "strokeDash": [1.5, 1.5]},
    "encoding": {"x": {"field": "t", "type": "quantitative"}, "y": {"field": "v", "type": "quantitative"}, "y2": {"field": "v2"}}},
   {"data": {"name": "b_ar"}, "mark": {"type": "rule", "strokeWidth": 2.5},
    "encoding": {"x": {"field": "t", "type": "quantitative"}, "x2": {"field": "t2"}, "y": {"field": "v", "type": "quantitative"},
     "stroke": {"field": "z", "type": "nominal", "scale": {"domain": ["w","tr","se"], "range": ["#ee2a2a","#4a7ebb","#1fae4a"]}, "legend": null}}},
   {"data": {"name": "b_ar"}, "mark": {"type": "point", "shape": "triangle-left", "filled": true, "size": 60, "opacity": 1, "xOffset": 3},
    "encoding": {"x": {"field": "t", "type": "quantitative"}, "y": {"field": "v", "type": "quantitative"},
     "fill": {"field": "z", "type": "nominal", "scale": {"domain": ["w","tr","se"], "range": ["#ee2a2a","#4a7ebb","#1fae4a"]}, "legend": null}}},
   {"data": {"name": "b_ar"}, "mark": {"type": "point", "shape": "triangle-right", "filled": true, "size": 60, "opacity": 1, "xOffset": -3},
    "encoding": {"x": {"field": "t2", "type": "quantitative"}, "y": {"field": "v", "type": "quantitative"},
     "fill": {"field": "z", "type": "nominal", "scale": {"domain": ["w","tr","se"], "range": ["#ee2a2a","#4a7ebb","#1fae4a"]}, "legend": null}}},
   {"data": {"name": "b_tx"}, "mark": {"type": "text", "align": "left", "baseline": "middle", "font": "Liberation Serif", "fontSize": 16, "color": "#111111"},
    "encoding": {"x": {"field": "t", "type": "quantitative"}, "y": {"field": "v", "type": "quantitative"}, "text": {"field": "label"}}}
  ]
 }]
 }]
},
{
 "spacing": 0,
 "resolve": {"scale": {"color": "independent", "strokeDash": "independent", "strokeWidth": "independent", "stroke": "independent", "fill": "independent"}, "legend": {"color": "independent", "strokeDash": "independent", "strokeWidth": "independent", "stroke": "independent", "fill": "independent"}},
 "hconcat": [
 {"width": 9, "height": 5, "data": {"name": "sp"}, "mark": {"type": "point", "opacity": 0}},
 {
 "title": {"text": "(c)", "orient": "bottom", "font": "Liberation Serif", "fontSize": 16, "color": "#000000", "offset": 11},
 "resolve": {"scale": {"color": "independent", "strokeDash": "independent", "strokeWidth": "independent", "stroke": "independent", "fill": "independent"}, "legend": {"color": "independent", "strokeDash": "independent", "strokeWidth": "independent", "stroke": "independent", "fill": "independent"}},
 "vconcat": [{
  "title": {"text": "Drag Force in Service Speed 10 Knot", "offset": 16},
  "width": 488, "height": 269,
  "layer": [
   {"data": {"name": "c"}, "mark": {"type": "line", "interpolate": "monotone"},
    "encoding": {
     "x": {"field": "t", "type": "quantitative", "title": "Time [s]", "scale": {"domain": [0, 1], "nice": false}, "axis": {"values": [0,0.1,0.2,0.3,0.4,0.5,0.6,0.7,0.8,0.9,1], "format": "~g", "titlePadding": 12, "labelOverlap": false, "tickCount": 30}},
     "y": {"field": "v", "type": "quantitative", "title": "Drag Force [N]", "scale": {"domain": [0, 20], "nice": false}, "axis": {"values": [0,2,4,6,8,10,12,14,16,18,20], "format": "d", "labelPadding": 13, "minExtent": 32, "maxExtent": 32, "labelOverlap": false, "tickCount": 30}},
     "color": {"field": "s", "type": "nominal", "title": null, "scale": {"domain": ["Conventional","Fin-1 Type","Fin-2 Type","Fin-3 Type"], "range": ["#4a7ebb","#c0504d","#9bbb59","#8064a2"]}, "legend": {"offset": 2}},
     "strokeDash": {"field": "s", "type": "nominal", "title": null, "scale": {"domain": ["Conventional","Fin-1 Type","Fin-2 Type","Fin-3 Type"], "range": [[1,0],[12,5,2,5],[10,5],[5,3]]}, "legend": {"offset": 2}},
     "strokeWidth": {"field": "s", "type": "ordinal", "scale": {"domain": ["Conventional","Fin-1 Type","Fin-2 Type","Fin-3 Type"], "range": [2.6,2,2,2]}, "legend": null}
    }},
   {"data": {"name": "c_vl"}, "mark": {"type": "rule", "color": "#4a7ebb", "strokeWidth": 1, "strokeDash": [1.5, 1.5]},
    "encoding": {"x": {"field": "t", "type": "quantitative"}, "y": {"field": "v", "type": "quantitative"}, "y2": {"field": "v2"}}},
   {"data": {"name": "c_ar"}, "mark": {"type": "rule", "strokeWidth": 2.5},
    "encoding": {"x": {"field": "t", "type": "quantitative"}, "x2": {"field": "t2"}, "y": {"field": "v", "type": "quantitative"},
     "stroke": {"field": "z", "type": "nominal", "scale": {"domain": ["w","tr","se"], "range": ["#ee2a2a","#4a7ebb","#1fae4a"]}, "legend": null}}},
   {"data": {"name": "c_ar"}, "mark": {"type": "point", "shape": "triangle-left", "filled": true, "size": 60, "opacity": 1, "xOffset": 3},
    "encoding": {"x": {"field": "t", "type": "quantitative"}, "y": {"field": "v", "type": "quantitative"},
     "fill": {"field": "z", "type": "nominal", "scale": {"domain": ["w","tr","se"], "range": ["#ee2a2a","#4a7ebb","#1fae4a"]}, "legend": null}}},
   {"data": {"name": "c_ar"}, "mark": {"type": "point", "shape": "triangle-right", "filled": true, "size": 60, "opacity": 1, "xOffset": -3},
    "encoding": {"x": {"field": "t2", "type": "quantitative"}, "y": {"field": "v", "type": "quantitative"},
     "fill": {"field": "z", "type": "nominal", "scale": {"domain": ["w","tr","se"], "range": ["#ee2a2a","#4a7ebb","#1fae4a"]}, "legend": null}}},
   {"data": {"name": "c_tx"}, "mark": {"type": "text", "align": "left", "baseline": "middle", "font": "Liberation Serif", "fontSize": 16.5, "color": "#111111"},
    "encoding": {"x": {"field": "t", "type": "quantitative"}, "y": {"field": "v", "type": "quantitative"}, "text": {"field": "label"}}}
  ]
 }]
 }]
}
]
}
